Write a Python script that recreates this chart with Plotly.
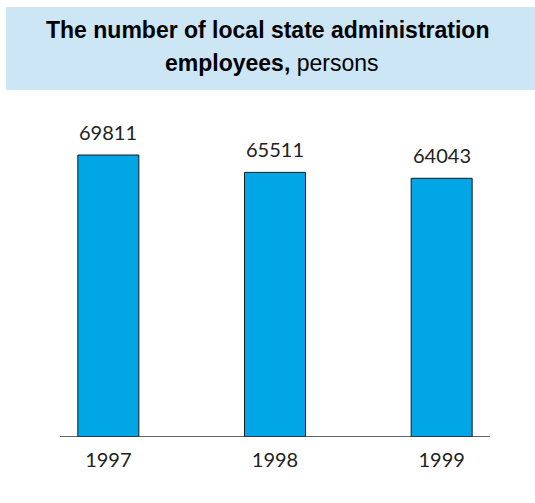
import plotly.graph_objects as go

years = ["1997", "1998", "1999"]
employees = [69811, 65511, 64043]

BAR_COLOR = "#00A6E6"
TITLE_BG = "#CCE6F6"
TEXT_FONT = "Lato"

fig = go.Figure()
fig.add_trace(go.Bar(
    x=years,
    y=employees,
    width=0.366,
    marker=dict(color=BAR_COLOR, line=dict(color="#1a1a1a", width=1)),
    hoverinfo="x+y",
))

# value labels above each bar
for i, v in enumerate(employees):
    fig.add_annotation(
        x=i, y=v, xref="x", yref="y",
        text=str(v), showarrow=False,
        yanchor="bottom", yshift=9,
        font=dict(family=TEXT_FONT, size=20, color="#222222"),
    )

# plot area in pixels: x 25..525, y 100..437
def px(xp):
    return (xp - 25) / 500

def py(yp):
    return (437 - yp) / 337

# title panel
fig.add_shape(type="rect", xref="paper", yref="paper",
              x0=px(6), x1=px(535), y0=py(90), y1=py(7),
              fillcolor=TITLE_BG, line=dict(width=0), layer="below")
fig.add_annotation(xref="paper", yref="paper", x=px(267), y=py(30),
                   text="<b>The number of local state administration</b>",
                   showarrow=False, xanchor="center", yanchor="middle",
                   font=dict(family="Liberation Sans", size=23, color="#000000"))
fig.add_annotation(xref="paper", yref="paper", x=px(272), y=py(63),
                   text="<b>employees,</b> persons",
                   showarrow=False, xanchor="center", yanchor="middle",
                   font=dict(family="Liberation Sans", size=23, color="#000000"))

# baseline
fig.add_shape(type="line", xref="paper", yref="y",
              x0=px(60), x1=px(490), y0=0, y1=0,
              line=dict(color="#333333", width=1.5))

fig.update_layout(
    width=535, height=503,
    margin=dict(l=25, r=10, t=100, b=66),
    paper_bgcolor="white", plot_bgcolor="white",
    showlegend=False,
    xaxis=dict(type="category", range=[-0.5, 2.5], showline=False, showgrid=False,
               zeroline=False, ticks="", ticklabelstandoff=9,
               tickfont=dict(family=TEXT_FONT, size=20, color="#222222")),
    yaxis=dict(range=[0, 83430], visible=False, showgrid=False, zeroline=False),
)

fig.write_html("out.html")
